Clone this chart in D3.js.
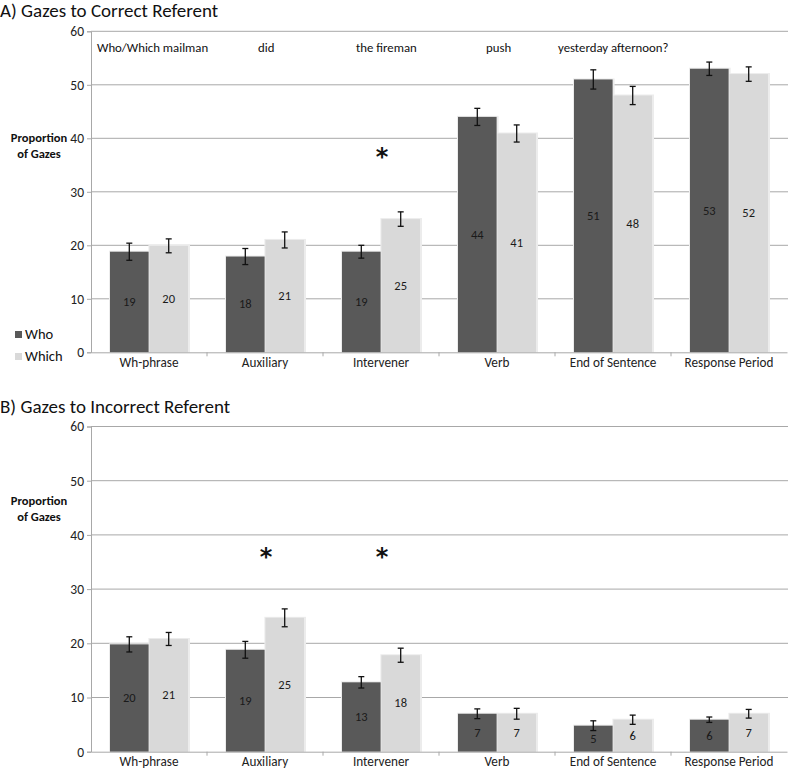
<!DOCTYPE html>
<html>
<head>
<meta charset="utf-8">
<script src="https://cdn.jsdelivr.net/npm/d3@7"></script>
<style>
  body { margin: 0; background: #fff; }
  svg { display: block; font-family: Carlito, Lato, "Open Sans", sans-serif; }
</style>
</head>
<body>
<svg id="chart" width="788" height="771"></svg>
<script>
const categories = ["Wh-phrase", "Auxiliary", "Intervener", "Verb", "End of Sentence", "Response Period"];
const seriesNames = ["Who", "Which"];
const yTicks = [0, 10, 20, 30, 40, 50, 60];

// Panel A: Gazes to Correct Referent
const correctWho = [18.8, 17.9, 18.8, 44.0, 51.0, 53.0];
const correctWhich = [19.9, 21.0, 24.9, 40.9, 48.0, 52.0];
const correctWhoErr = [1.6, 1.5, 1.2, 1.6, 1.8, 1.25];
const correctWhichErr = [1.3, 1.5, 1.35, 1.6, 1.7, 1.35];
const correctStars = ["Intervener"];

// Panel B: Gazes to Incorrect Referent
const incorrectWho = [19.8, 18.8, 12.8, 7.0, 4.8, 5.9];
const incorrectWhich = [20.8, 24.7, 17.8, 7.0, 5.9, 7.0];
const incorrectWhoErr = [1.4, 1.55, 1.05, 0.9, 0.9, 0.5];
const incorrectWhichErr = [1.2, 1.65, 1.3, 1.0, 0.85, 0.8];
const incorrectStars = ["Auxiliary", "Intervener"];

const sentenceWords = ["Who/Which mailman", "did", "the fireman", "push", "yesterday afternoon?"];

const colors = { Who: "#595959", Which: "#d9d9d9" };
const gridColor = "#a8a8a8";

const svg = d3.select("#chart");

const x0 = d3.scaleBand().domain(categories).range([91, 787]).paddingInner(0).paddingOuter(0);
const x1 = d3.scaleBand().domain(seriesNames).range([19, x0.bandwidth() - 19]).paddingInner(0.02);

function drawPanel(opts) {
  const g = svg.append("g");
  const y = d3.scaleLinear().domain([0, 60]).range([opts.yBottom, opts.yTop]);

  // title
  g.append("text").attr("x", 0).attr("y", opts.titleY)
    .attr("font-size", 19).attr("fill", "#111").text(opts.title);

  // gridlines
  g.selectAll("line.grid").data(yTicks.filter(d => d > 0)).join("line")
    .attr("x1", 91).attr("x2", 788)
    .attr("y1", d => y(d)).attr("y2", d => y(d))
    .attr("stroke", gridColor).attr("stroke-width", 1);

  // y axis
  const yAxis = d3.axisLeft(y).tickValues(yTicks).tickSize(4).tickPadding(3);
  const ya = g.append("g").attr("transform", "translate(91,0)").call(yAxis);
  ya.select(".domain").attr("stroke", gridColor);
  ya.selectAll(".tick line").attr("stroke", gridColor);
  ya.selectAll(".tick text").attr("font-size", 13.5).attr("fill", "#222")
    .attr("font-family", "Carlito, Lato, sans-serif");

  // y label
  const yl = g.append("text").attr("text-anchor", "middle").attr("font-weight", "bold")
    .attr("font-size", 12.5).attr("fill", "#111");
  yl.append("tspan").attr("x", 39).attr("y", opts.ylabelY).text("Proportion");
  yl.append("tspan").attr("x", 39).attr("y", opts.ylabelY + 16).text("of Gazes");

  // bars
  const rows = categories.map((c, i) => ({
    cat: c,
    vals: [
      { s: "Who", v: opts.who[i], e: opts.whoErr[i] },
      { s: "Which", v: opts.which[i], e: opts.whichErr[i] }
    ]
  }));

  const groups = g.selectAll("g.cat").data(rows).join("g")
    .attr("transform", d => `translate(${x0(d.cat)},0)`);

  // shadow
  groups.selectAll("rect.shadow").data(d => d.vals).join("rect")
    .attr("x", d => x1(d.s) - 1).attr("width", x1.bandwidth() + 3)
    .attr("y", d => y(d.v) - 1).attr("height", d => y(0) - y(d.v) + 1)
    .attr("fill", "#ececec");

  groups.selectAll("rect.bar").data(d => d.vals).join("rect")
    .attr("x", d => x1(d.s)).attr("width", x1.bandwidth())
    .attr("y", d => y(d.v)).attr("height", d => y(0) - y(d.v))
    .attr("fill", d => colors[d.s]);

  // error bars
  const eb = groups.selectAll("g.err").data(d => d.vals).join("g")
    .attr("stroke", "#111").attr("stroke-width", 1.3);
  eb.append("line")
    .attr("x1", d => x1(d.s) + x1.bandwidth() / 2).attr("x2", d => x1(d.s) + x1.bandwidth() / 2)
    .attr("y1", d => y(d.v + d.e)).attr("y2", d => y(d.v - d.e));
  eb.append("line")
    .attr("x1", d => x1(d.s) + x1.bandwidth() / 2 - 3).attr("x2", d => x1(d.s) + x1.bandwidth() / 2 + 3)
    .attr("y1", d => y(d.v + d.e)).attr("y2", d => y(d.v + d.e));
  eb.append("line")
    .attr("x1", d => x1(d.s) + x1.bandwidth() / 2 - 3).attr("x2", d => x1(d.s) + x1.bandwidth() / 2 + 3)
    .attr("y1", d => y(d.v - d.e)).attr("y2", d => y(d.v - d.e));

  // value labels
  groups.selectAll("text.val").data(d => d.vals).join("text")
    .attr("x", d => x1(d.s) + x1.bandwidth() / 2)
    .attr("y", d => y(d.v / 2) + 4)
    .attr("text-anchor", "middle").attr("font-size", 12.5).attr("fill", "#1a1a1a")
    .text(d => d3.format(".0f")(d.v));

  // x axis
  const xAxis = d3.axisBottom(x0).tickSize(0).tickPadding(5);
  const xa = g.append("g").attr("transform", `translate(0,${y(0)})`).call(xAxis);
  xa.select(".domain").attr("stroke", gridColor);
  xa.selectAll(".tick text").attr("font-size", 13.2).attr("fill", "#222")
    .attr("font-family", "Carlito, Lato, sans-serif");
  // category separators
  g.selectAll("line.sep").data(categories.slice(1)).join("line")
    .attr("x1", d => x0(d)).attr("x2", d => x0(d))
    .attr("y1", y(0)).attr("y2", y(0) + 4)
    .attr("stroke", gridColor);

  // asterisks
  g.selectAll("text.star").data(opts.stars).join("text")
    .attr("x", d => x0(d) + x0.bandwidth() / 2 + 1)
    .attr("y", opts.starY)
    .attr("text-anchor", "middle").attr("font-size", 24).attr("font-weight", "bold")
    .attr("font-family", "DejaVu Sans, sans-serif")
    .attr("fill", "#111").text("*");

  return { g, y };
}

const A = drawPanel({
  title: "A) Gazes to Correct Referent", titleY: 17,
  yTop: 31.3, yBottom: 352.3, ylabelY: 142,
  who: correctWho, which: correctWhich, whoErr: correctWhoErr, whichErr: correctWhichErr,
  stars: correctStars, starY: 165
});

const B = drawPanel({
  title: "B) Gazes to Incorrect Referent", titleY: 413,
  yTop: 426.5, yBottom: 751.7, ylabelY: 505,
  who: incorrectWho, which: incorrectWhich, whoErr: incorrectWhoErr, whichErr: incorrectWhichErr,
  stars: incorrectStars, starY: 565
});

// sentence words (panel A)
const wordX = [97, 258, 356, 486, 558];
svg.selectAll("text.word").data(sentenceWords).join("text")
  .attr("x", (d, i) => wordX[i]).attr("y", 52)
  .attr("font-size", 12.8).attr("fill", "#111").text(d => d);

// legend
const leg = svg.append("g");
seriesNames.forEach((s, i) => {
  leg.append("rect").attr("x", 15).attr("y", 331 + i * 22).attr("width", 7).attr("height", 7)
    .attr("fill", colors[s]);
  leg.append("text").attr("x", 25).attr("y", 339 + i * 22)
    .attr("font-size", 14.5).attr("fill", "#111").text(s);
});
</script>
</body>
</html>
